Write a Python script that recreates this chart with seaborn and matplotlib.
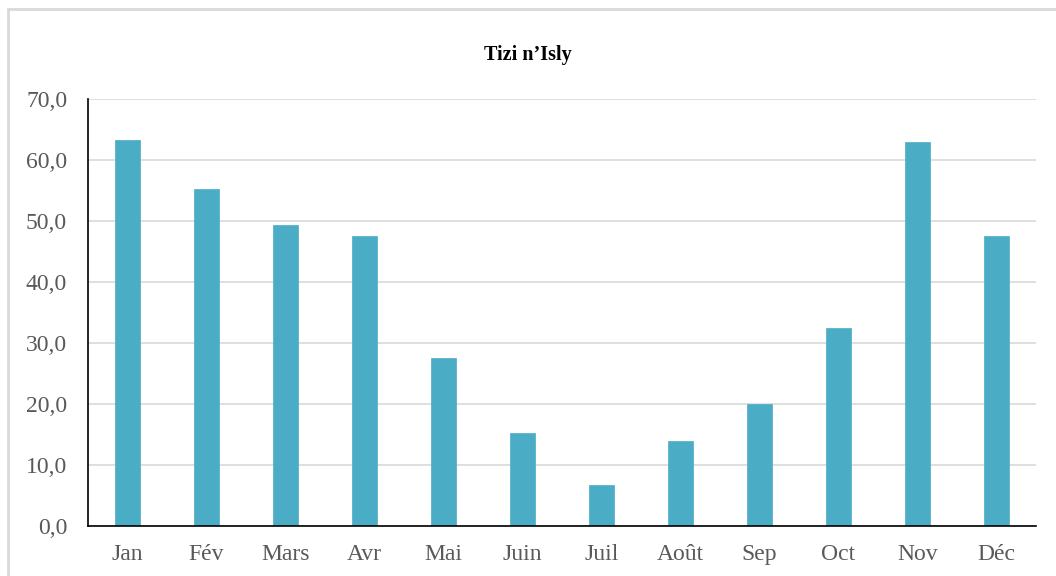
import matplotlib
matplotlib.use("Agg")
import matplotlib.pyplot as plt
import matplotlib.patches as mpatches
import seaborn as sns
import pandas as pd

# Monthly values for Tizi n'Isly
months = ["Jan", "Fév", "Mars", "Avr", "Mai", "Juin", "Juil", "Août", "Sep", "Oct", "Nov", "Déc"]
values = [63.3, 55.2, 49.3, 47.5, 27.5, 15.2, 6.7, 13.9, 20.0, 32.4, 63.0, 47.5]
y_ticks = [0, 10, 20, 30, 40, 50, 60, 70]
title = "Tizi n\u2019Isly"

sns.set_theme(style="white")
plt.rcParams["font.family"] = ["Liberation Serif", "DejaVu Serif"]

df = pd.DataFrame({"mois": months, "valeur": values})

fig = plt.figure(figsize=(10.56, 5.76), dpi=100)
ax = fig.add_axes([88 / 1056, 1 - 526 / 576, (1036 - 88) / 1056, (526 - 99) / 576])

sns.barplot(data=df, x="mois", y="valeur", color="#4BACC6", saturation=1,
            width=0.31, ax=ax, edgecolor="#4BACC6", linewidth=0.5)

ax.set_ylim(0, 70)
ax.set_xlim(-0.5, len(months) - 0.5)
ax.set_yticks(y_ticks)
ax.set_yticklabels([f"{v:.1f}".replace(".", ",") for v in y_ticks])
ax.yaxis.grid(True, color="#d9d9d9", linewidth=1.2)
ax.set_axisbelow(True)
ax.set_xlabel("")
ax.set_ylabel("")

for side in ["top", "right"]:
    ax.spines[side].set_visible(False)
for side in ["left", "bottom"]:
    ax.spines[side].set_color("#000000")
    ax.spines[side].set_linewidth(1.2)

ax.tick_params(axis="both", length=0, labelsize=17, colors="#595959")
ax.tick_params(axis="x", pad=13)
ax.tick_params(axis="y", pad=15)

fig.text(0.5, 1 - 55 / 576, title, ha="center", va="center",
         fontsize=14.5, fontweight="bold", color="#000000")

# chart area frame
fig.patches.append(mpatches.Rectangle((8 / 1056, -0.05), 1.1, 1 - 9 / 576 + 0.05,
                                      transform=fig.transFigure, fill=False,
                                      edgecolor="#d9d9d9", linewidth=2))

fig.savefig("out.png", dpi=100, facecolor="white")
